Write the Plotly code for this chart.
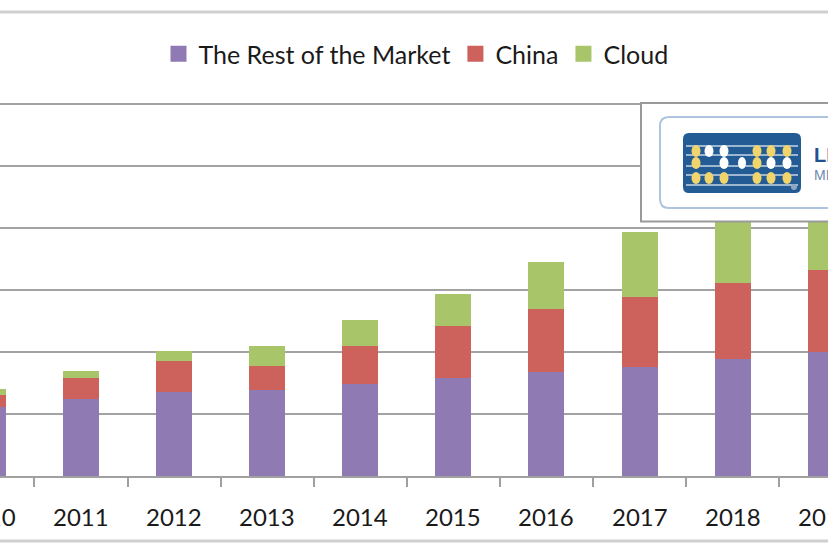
import plotly.graph_objects as go

# data (gridline step = 10 units)
years = ['2010', '2011', '2012', '2013', '2014', '2015', '2016', '2017', '2018', '2019']
rest_of_market = [11.2, 12.5, 13.5, 13.8, 14.8, 15.8, 16.7, 17.6, 18.8, 20.0]
china = [1.9, 3.3, 5.0, 4.0, 6.1, 8.4, 10.2, 11.3, 12.4, 13.3]
cloud = [0.9, 1.1, 1.7, 3.2, 4.2, 5.2, 7.6, 10.4, 12.6, 14.8]
series_names = ['The Rest of the Market', 'China', 'Cloud']
series_colors = ['#8f7ab4', '#cd615c', '#a9c56a']

W, H = 828, 550
TOP, BOT = 102, 476          # plot area in pixels
PX_PER_UNIT = 372 / 60       # 6 gridlines of 62 px
Y_MAX = 60 + (104 - TOP) / PX_PER_UNIT
X_RANGE = [0.13, 9.024]      # chart is cropped at both sides


def px_x(p):
    return p / W


def px_y(p):
    return (BOT - p) / (BOT - TOP)


def cat_x(i):
    return (i - X_RANGE[0]) / (X_RANGE[1] - X_RANGE[0])


fig = go.Figure()
for name, vals, col in zip(series_names, [rest_of_market, china, cloud], series_colors):
    fig.add_trace(go.Bar(x=years, y=vals, name=name, marker_color=col,
                         marker_line_width=0, showlegend=False))
    # legend proxy with a bigger square
    fig.add_trace(go.Scatter(x=[None], y=[None], mode='markers', name=name,
                             marker=dict(symbol='square', size=16, color=col)))

fig.update_layout(
    width=W, height=H,
    margin=dict(l=0, r=0, t=TOP, b=H - BOT),
    barmode='stack', bargap=0.613,
    plot_bgcolor='white', paper_bgcolor='white',
    font=dict(family='Lato', size=24, color='#1a1a1a'),
    legend=dict(orientation='h', x=px_x(416), xanchor='center',
                y=px_y(54), yanchor='middle', font=dict(size=25, color='#1a1a1a'),
                traceorder='normal', bgcolor='rgba(0,0,0,0)'),
)
fig.update_xaxes(type='category', range=X_RANGE, showticklabels=False,
                 showline=True, linecolor='#a0a0a0', linewidth=2,
                 ticks='outside', tickson='boundaries', ticklen=9,
                 tickcolor='#a0a0a0', tickwidth=2, showgrid=False)
fig.update_yaxes(range=[0, Y_MAX], dtick=10, showticklabels=False,
                 showgrid=True, gridcolor='#a3a3a3', gridwidth=2,
                 zeroline=False)

# year labels (placed by category index so the cropped ones show too)
for i, yr in enumerate(years):
    fig.add_annotation(x=cat_x(i), y=px_y(516), xref='paper', yref='paper',
                       text=yr, showarrow=False, xanchor='center', yanchor='middle',
                       font=dict(size=24, color='#1a1a1a'))

# outer chart border (cropped)
fig.add_shape(type='rect', xref='paper', yref='paper',
              x0=-0.05, x1=1.05, y0=px_y(541), y1=px_y(12),
              line=dict(color='#cfcfcf', width=3), fillcolor='rgba(0,0,0,0)', layer='below')

# logo box
fig.add_shape(type='rect', xref='paper', yref='paper',
              x0=px_x(641), x1=1.05, y0=px_y(221.5), y1=px_y(103),
              line=dict(color='#9a9a9a', width=2), fillcolor='white')


def rounded(x0, y0, x1, y1, r):
    a, b, c, d = px_x(x0), px_y(y0), px_x(x1), px_y(y1)
    rx, ry = r / W, r / (BOT - TOP)
    return (f'M {a + rx},{b} L {c - rx},{b} Q {c},{b} {c},{b - ry} '
            f'L {c},{d + ry} Q {c},{d} {c - rx},{d} L {a + rx},{d} '
            f'Q {a},{d} {a},{d + ry} L {a},{b - ry} Q {a},{b} {a + rx},{b} Z')


fig.add_shape(type='path', xref='paper', yref='paper',
              path=rounded(660, 117, 860, 208, 9),
              line=dict(color='#adc3de', width=2), fillcolor='white')
fig.add_shape(type='path', xref='paper', yref='paper',
              path=rounded(683, 133, 801, 193, 6),
              line=dict(width=0), fillcolor='#235c94')
for ly in [146, 155, 166, 175, 185]:
    fig.add_shape(type='line', xref='paper', yref='paper',
                  x0=px_x(686), x1=px_x(798), y0=px_y(ly), y1=px_y(ly),
                  line=dict(color='#c9d6e6', width=1.5))

dot_cols = [696, 709, 724, 742, 757, 771, 787]
dot_rows = [151, 163, 178]
dot_pattern = ['YWW-YYY', 'Y-WWYWW', 'YYY-YYY']
for ry, row in zip(dot_rows, dot_pattern):
    for cx, ch in zip(dot_cols, row):
        if ch == '-':
            continue
        w = 4 if (ch == 'W' and cx == 742) else 4.5
        fig.add_shape(type='circle', xref='paper', yref='paper',
                      x0=px_x(cx - w), x1=px_x(cx + w), y0=px_y(ry + 6), y1=px_y(ry - 6),
                      line=dict(width=0),
                      fillcolor='#f2d46c' if ch == 'Y' else 'white')
fig.add_shape(type='circle', xref='paper', yref='paper',
              x0=px_x(791), x1=px_x(797), y0=px_y(190), y1=px_y(184),
              line=dict(width=0), fillcolor='#8fa6c2')

fig.add_annotation(x=px_x(812), y=px_y(155), xref='paper', yref='paper',
                   text='<b>LINLEY</b>', showarrow=False, xanchor='left', yanchor='middle',
                   font=dict(family='Liberation Sans', size=20, color='#1f5290'))
fig.add_annotation(x=px_x(812), y=px_y(175), xref='paper', yref='paper',
                   text='MICROPROCESSOR', showarrow=False, xanchor='left', yanchor='middle',
                   font=dict(family='Liberation Sans', size=14, color='#7089ab'))

# the page's default 8px body margin would shift the whole chart
fig.write_html('out.html', config={'displayModeBar': False},
               post_script="document.body.style.margin='0';")
